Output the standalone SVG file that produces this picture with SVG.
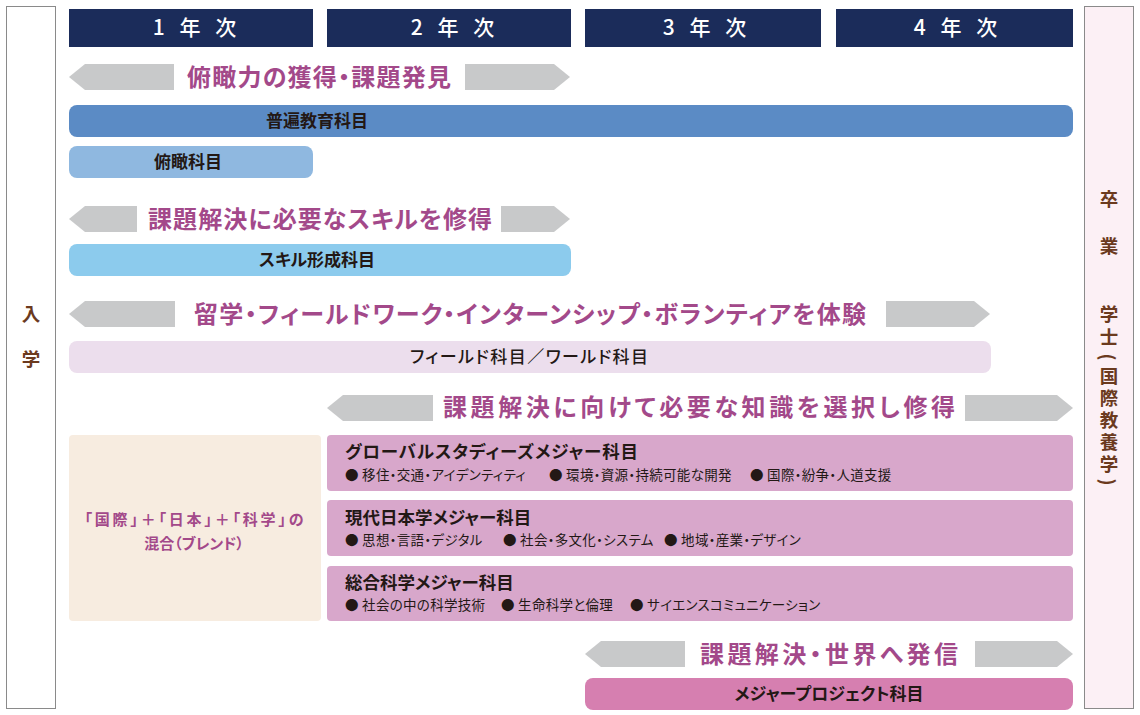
<svg xmlns="http://www.w3.org/2000/svg" width="1140" height="715" viewBox="0 0 1140 715">
<style>
text{font-family:"Noto Sans CJK JP","Noto Sans",sans-serif;font-feature-settings:"palt" 1;}
.hdr{fill:#1b2c5a;}
.ht{fill:#ffffff;font-size:21px;font-weight:500;text-anchor:middle;letter-spacing:5px;font-feature-settings:normal;}
.arr{fill:#c8c9ca;}
.at{fill:#a3498a;font-size:24px;font-weight:700;text-anchor:middle;}
.bt{fill:#231815;font-size:17px;font-weight:700;text-anchor:middle;}
.mt{fill:#231815;font-size:17.5px;font-weight:700;}
.mb{fill:#231815;font-size:13.5px;letter-spacing:0.3px;}
.side{fill:#6b3a1e;font-size:18.5px;font-weight:700;text-anchor:middle;dominant-baseline:central;}
.blend{fill:#a3498a;font-size:15px;font-weight:700;text-anchor:middle;}
.major{fill:#d8a7cb;}
</style>
<rect x="0" y="0" width="1140" height="715" fill="#ffffff"/>

<g id="entry">
<rect x="6.5" y="6.5" width="49" height="702" fill="#ffffff" stroke="#8a8a8a" stroke-width="1"/>
<text class="side" x="31" y="313">入</text>
<text class="side" x="31" y="358">学</text>
</g>

<g id="graduation">
<rect x="1084.5" y="6.5" width="49" height="702" fill="#fcf0f5" stroke="#8a8a8a" stroke-width="1"/>
<text class="side" x="1109" y="198">卒</text>
<text class="side" x="1109" y="245">業</text>
<text class="side" x="1109" y="313">学</text>
<text class="side" x="1109" y="336">士</text>
<text class="side" x="1109" y="357" transform="rotate(90 1109 357)">(</text>
<text class="side" x="1109" y="375">国</text>
<text class="side" x="1109" y="397">際</text>
<text class="side" x="1109" y="419">教</text>
<text class="side" x="1109" y="441">養</text>
<text class="side" x="1109" y="463">学</text>
<text class="side" x="1109" y="482" transform="rotate(90 1109 482)">)</text>
</g>

<g id="headers">
<rect class="hdr" x="69" y="9" width="244" height="38"/>
<text class="ht" x="197" y="35">1 年 次</text>
<rect class="hdr" x="327" y="9" width="244" height="38"/>
<text class="ht" x="455" y="35">2 年 次</text>
<rect class="hdr" x="585" y="9" width="236" height="38"/>
<text class="ht" x="707" y="35">3 年 次</text>
<rect class="hdr" x="836" y="9" width="237" height="38"/>
<text class="ht" x="958" y="35">4 年 次</text>
</g>

<g id="connectors">
<polygon class="arr" points="69,77 85,64 174,64 174,90 85,90"/>
<polygon class="arr" points="465,64 554,64 570,77 554,90 465,90"/>
<polygon class="arr" points="69,219 85,206 137,206 137,232 85,232"/>
<polygon class="arr" points="501,206 554,206 570,219 554,232 501,232"/>
<polygon class="arr" points="69,314 85,301 175,301 175,327 85,327"/>
<polygon class="arr" points="886,301 974,301 990,314 974,327 886,327"/>
<polygon class="arr" points="327,408 343,395 433,395 433,421 343,421"/>
<polygon class="arr" points="965,395 1057,395 1073,408 1057,421 965,421"/>
<polygon class="arr" points="585,654 601,641 685,641 685,667 601,667"/>
<polygon class="arr" points="975,641 1057,641 1073,654 1057,667 975,667"/>
</g>

<g id="label-fukan">
<text class="at" x="319" y="86" textLength="264" lengthAdjust="spacing">俯瞰力の獲得・課題発見</text>
</g>
<g id="label-skill">
<text class="at" x="320" y="228" textLength="344" lengthAdjust="spacing">課題解決に必要なスキルを修得</text>
</g>
<g id="label-ryugaku">
<text class="at" x="530" y="323" textLength="672" lengthAdjust="spacing">留学・フィールドワーク・インターンシップ・ボランティアを体験</text>
</g>
<g id="label-chishiki">
<text class="at" x="699" y="416" textLength="512" lengthAdjust="spacing">課題解決に向けて必要な知識を選択し修得</text>
</g>
<g id="label-hasshin">
<text class="at" x="829" y="663" textLength="258" lengthAdjust="spacing">課題解決・世界へ発信</text>
</g>

<g id="fuhen">
<rect x="69" y="105" width="1004" height="32" rx="8" fill="#5b8bc5"/>
<text class="bt" x="317" y="127">普遍教育科目</text>
</g>
<g id="fukan">
<rect x="69" y="146" width="244" height="32" rx="8" fill="#8fb8e0"/>
<text class="bt" x="188" y="168">俯瞰科目</text>
</g>
<g id="skill">
<rect x="69" y="244" width="502" height="32" rx="8" fill="#8ccbed"/>
<text class="bt" x="317" y="266">スキル形成科目</text>
</g>
<g id="field">
<rect x="69" y="341" width="922" height="32" rx="8" fill="#ecdeed"/>
<text class="bt" x="529" y="363" style="font-weight:500" textLength="238" lengthAdjust="spacing">フィールド科目／ワールド科目</text>
</g>

<g id="blend">
<rect x="69" y="435" width="252" height="186" rx="4" fill="#f7ece0"/>
<text class="blend" x="194" y="525" textLength="219" lengthAdjust="spacing">「国際」＋「日本」＋「科学」の</text>
<text class="blend" x="194" y="549">混合（ブレンド）</text>
</g>

<g id="global">
<rect class="major" x="327" y="435" width="746" height="56" rx="4"/>
<text class="mt" x="345" y="458" textLength="293" lengthAdjust="spacing">グローバルスタディーズメジャー科目</text>
<text class="mb" x="345" y="480">● 移住・交通・アイデンティティ</text>
<text class="mb" x="549" y="480">● 環境・資源・持続可能な開発</text>
<text class="mb" x="750" y="480">● 国際・紛争・人道支援</text>
</g>
<g id="japan">
<rect class="major" x="327" y="500" width="746" height="56" rx="4"/>
<text class="mt" x="345" y="524">現代日本学メジャー科目</text>
<text class="mb" x="345" y="545">● 思想・言語・デジタル</text>
<text class="mb" x="503" y="545">● 社会・多文化・システム</text>
<text class="mb" x="664" y="545">● 地域・産業・デザイン</text>
</g>
<g id="science">
<rect class="major" x="327" y="566" width="746" height="55" rx="4"/>
<text class="mt" x="345" y="589">総合科学メジャー科目</text>
<text class="mb" x="345" y="610">● 社会の中の科学技術</text>
<text class="mb" x="501" y="610">● 生命科学と倫理</text>
<text class="mb" x="630" y="610">● サイエンスコミュニケーション</text>
</g>

<g id="project">
<rect x="585" y="678" width="488" height="32" rx="8" fill="#d67fb0"/>
<text class="bt" x="829" y="700">メジャープロジェクト科目</text>
</g>
</svg>
